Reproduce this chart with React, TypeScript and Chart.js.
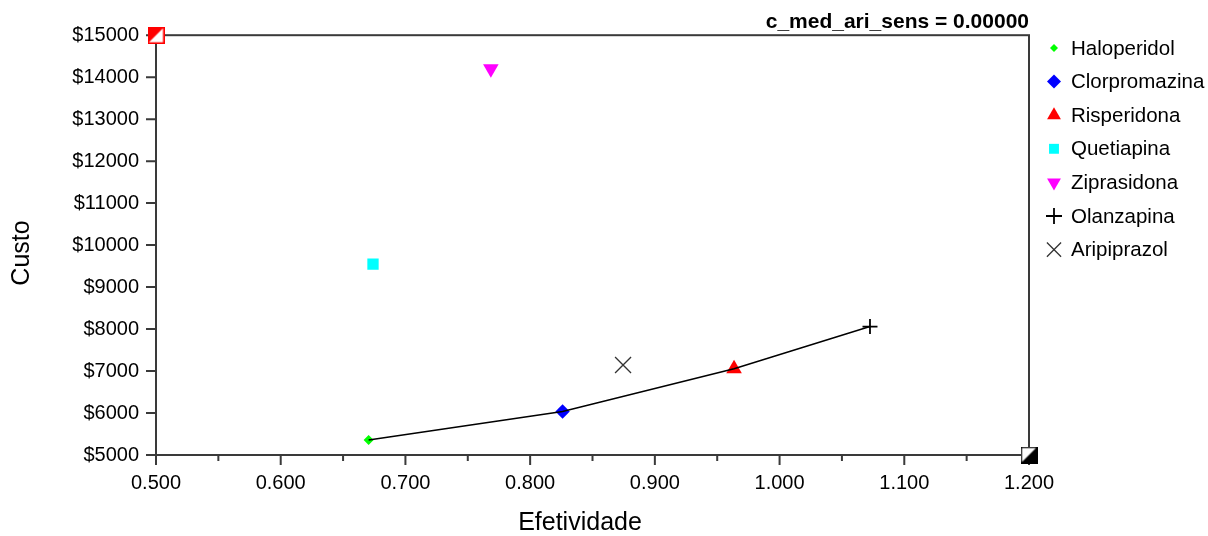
import React, { useEffect, useRef } from 'react';
import { Chart, registerables } from 'chart.js';
import { drawPoint } from 'chart.js/helpers';

Chart.register(...registerables);

// Cost-effectiveness of antipsychotics
const drugs = ['Haloperidol', 'Clorpromazina', 'Risperidona', 'Quetiapina', 'Ziprasidona', 'Olanzapina', 'Aripiprazol'];
const efetividade = [0.6705, 0.826, 0.9635, 0.674, 0.7685, 1.0725, 0.8745];
const custo = [5360, 6035, 7055, 9545, 14200, 8060, 7145];

// Non-dominated strategies, joined by the frontier line
const frontier = ['Haloperidol', 'Clorpromazina', 'Risperidona', 'Olanzapina'];

// Axis ranges and ticks
const xMin = 0.5;
const xMax = 1.2;
const xStep = 0.05;
const yMin = 5000;
const yMax = 15000;
const yStep = 1000;

const chartTitle = 'c_med_ari_sens = 0.00000';
const xTitle = 'Efetividade';
const yTitle = 'Custo';

const FONT = '"Liberation Sans", Arial, sans-serif';
const AXIS_COLOR = '#3a3a3a';

type Marker = { style: string; color: string; radius: number; legendRadius: number; rotation?: number; lineWidth?: number };

const markers: Marker[] = [
  { style: 'rectRot', color: '#00ff00', radius: 5, legendRadius: 4 },
  { style: 'rectRot', color: '#0000ff', radius: 7.2, legendRadius: 7 },
  { style: 'triangle', color: '#ff0000', radius: 9, legendRadius: 8 },
  { style: 'rect', color: '#00ffff', radius: 8, legendRadius: 7 },
  { style: 'triangle', color: '#ff00ff', radius: 9, legendRadius: 8, rotation: 180 },
  { style: 'cross', color: '#000000', radius: 7.5, legendRadius: 8, lineWidth: 1.8 },
  { style: 'crossRot', color: '#333333', radius: 11.3, legendRadius: 10, lineWidth: 1.3 },
];

// Half-filled square used for the corner reference points
function cornerMark(color: string, upperLeft: boolean): HTMLCanvasElement {
  const s = 17;
  const c = document.createElement('canvas');
  c.width = s;
  c.height = s;
  const g = c.getContext('2d')!;
  g.fillStyle = '#ffffff';
  g.fillRect(0, 0, s, s);
  g.fillStyle = color;
  g.beginPath();
  if (upperLeft) {
    g.moveTo(0, 0);
    g.lineTo(s, 0);
    g.lineTo(0, s);
  } else {
    g.moveTo(s, 0);
    g.lineTo(s, s);
    g.lineTo(0, s);
  }
  g.closePath();
  g.fill();
  g.strokeStyle = color;
  g.lineWidth = 1.5;
  g.strokeRect(0.75, 0.75, s - 1.5, s - 1.5);
  return c;
}

const isMajor = (v: number) => Math.abs(v * 10 - Math.round(v * 10)) < 1e-6;

const decorations = {
  id: 'decorations',
  beforeDatasetsDraw(chart: any) {
    const { ctx, chartArea: a, scales } = chart;
    ctx.save();
    ctx.strokeStyle = AXIS_COLOR;
    ctx.lineWidth = 2;
    ctx.strokeRect(a.left, a.top, a.right - a.left, a.bottom - a.top);
    ctx.beginPath();
    for (const t of scales.x.ticks) {
      const px = scales.x.getPixelForValue(t.value);
      ctx.moveTo(px, a.bottom);
      ctx.lineTo(px, a.bottom + (isMajor(t.value) ? 10 : 6));
    }
    for (const t of scales.y.ticks) {
      const py = scales.y.getPixelForValue(t.value);
      ctx.moveTo(a.left, py);
      ctx.lineTo(a.left - 10, py);
    }
    ctx.stroke();
    ctx.restore();
  },
  afterDraw(chart: any) {
    const { ctx } = chart;
    ctx.save();
    ctx.fillStyle = '#000';
    ctx.font = `25px ${FONT}`;
    ctx.textAlign = 'center';
    ctx.textBaseline = 'middle';
    ctx.fillText(xTitle, 580, 523);
    ctx.translate(22, 253);
    ctx.rotate(-Math.PI / 2);
    ctx.fillText(yTitle, 0, 0);
    ctx.restore();

    // legend
    ctx.save();
    drugs.forEach((name, i) => {
      const m = markers[i];
      const y = 48 + i * 33.6;
      ctx.fillStyle = m.color;
      ctx.strokeStyle = m.color;
      ctx.lineWidth = m.lineWidth ?? 0;
      drawPoint(ctx, { pointStyle: m.style, radius: m.legendRadius, rotation: m.rotation ?? 0, borderWidth: m.lineWidth ?? 0 } as any, 1054, y);
      ctx.fillStyle = '#000';
      ctx.font = `20.5px ${FONT}`;
      ctx.textAlign = 'left';
      ctx.textBaseline = 'middle';
      ctx.fillText(name, 1071, y + 1);
    });
    ctx.restore();
  },
};

export default function App() {
  const ref = useRef<HTMLCanvasElement | null>(null);

  useEffect(() => {
    if (!ref.current) return;

    const pointSets = drugs.map((name, i) => {
      const m = markers[i];
      return {
        label: name,
        data: [{ x: efetividade[i], y: custo[i] }],
        pointStyle: m.style,
        rotation: m.rotation ?? 0,
        pointRadius: m.radius,
        backgroundColor: m.color,
        borderColor: m.color,
        pointBorderWidth: m.lineWidth ?? 0,
        showLine: false,
      };
    });

    const frontierSet = {
      label: 'frontier',
      data: frontier.map((name) => {
        const i = drugs.indexOf(name);
        return { x: efetividade[i], y: custo[i] };
      }),
      showLine: true,
      borderColor: '#000',
      borderWidth: 1.5,
      pointRadius: 0,
      order: -1,
    };

    const cornerSets = [
      { label: 'corner-max', data: [{ x: xMin, y: yMax }], pointStyle: cornerMark('#ff0000', true), clip: false as const, pointRadius: 8 },
      { label: 'corner-min', data: [{ x: xMax, y: yMin }], pointStyle: cornerMark('#000000', false), clip: false as const, pointRadius: 8 },
    ];

    const chart = new Chart(ref.current, {
      type: 'scatter',
      data: { datasets: [...pointSets, frontierSet, ...cornerSets] as any },
      options: {
        animation: false,
        responsive: true,
        maintainAspectRatio: false,
        layout: { padding: { left: 0, right: 179, top: 0, bottom: 0 } },
        plugins: {
          legend: { display: false },
          tooltip: { enabled: false },
          title: {
            display: true,
            text: chartTitle,
            align: 'end',
            color: '#000',
            font: { family: FONT, size: 21, weight: 'bold' },
            padding: { top: 10, bottom: 0 },
          },
        },
        scales: {
          x: {
            type: 'linear',
            min: xMin,
            max: xMax,
            grid: { display: false },
            border: { display: false },
            ticks: {
              stepSize: xStep,
              autoSkip: false,
              maxRotation: 0,
              padding: 8,
              color: '#000',
              font: { family: FONT, size: 20 },
              callback: (v: any) => (isMajor(Number(v)) ? Number(v).toFixed(3) : ''),
            },
            afterFit: (s: any) => {
              s.height = 81;
            },
          },
          y: {
            type: 'linear',
            min: yMin,
            max: yMax,
            grid: { display: false },
            border: { display: false },
            ticks: {
              stepSize: yStep,
              padding: 9,
              color: '#000',
              font: { family: FONT, size: 20 },
              callback: (v: any) => '$' + v,
            },
            afterFit: (s: any) => {
              s.width = 156;
            },
          },
        },
      },
      plugins: [decorations],
    });

    return () => chart.destroy();
  }, []);

  return (
    <div style={{ position: 'absolute', left: 0, top: 0, width: 1208, height: 536, background: '#fff' }}>
      <canvas ref={ref} />
    </div>
  );
}
